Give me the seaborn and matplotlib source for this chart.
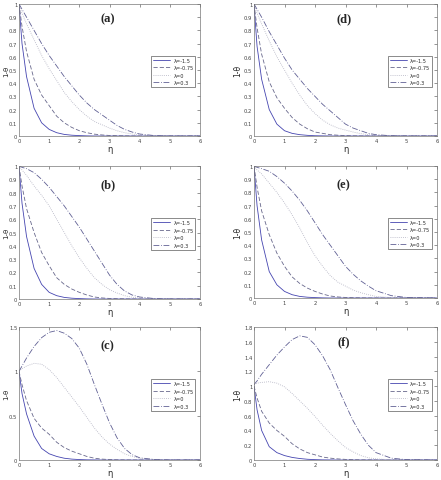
import numpy as np
import pandas as pd
import matplotlib
matplotlib.use("Agg")
import matplotlib.pyplot as plt
import seaborn as sns

eta = [0, 0.1, 0.25, 0.5, 0.75, 1, 1.25, 1.5, 1.75, 2, 2.25, 2.5, 2.75, 3, 3.25, 3.5, 3.75, 4, 4.5, 5, 6]
lambdas = ["λ=-1.5", "λ=-0.75", "λ=0", "λ=0.3"]

a_l1 = [1, 0.7, 0.45, 0.21, 0.1, 0.05, 0.025, 0.012, 0.006, 0.003, 0.001, 0, 0, 0, 0, 0, 0, 0, 0, 0, 0]
a_l2 = [1, 0.83, 0.64, 0.43, 0.31, 0.23, 0.15, 0.1, 0.065, 0.04, 0.025, 0.014, 0.008, 0.004, 0.002, 0.001, 0, 0, 0, 0, 0]
a_l3 = [1, 0.93, 0.85, 0.73, 0.61, 0.51, 0.42, 0.33, 0.26, 0.2, 0.15, 0.11, 0.085, 0.06, 0.04, 0.025, 0.015, 0.008, 0.002, 0, 0]
a_l4 = [1, 0.96, 0.9, 0.8, 0.7, 0.61, 0.53, 0.45, 0.38, 0.31, 0.25, 0.2, 0.16, 0.12, 0.08, 0.05, 0.03, 0.015, 0.003, 0, 0]

d_l1 = [1, 0.68, 0.43, 0.2, 0.09, 0.04, 0.02, 0.01, 0.005, 0.002, 0.001, 0, 0, 0, 0, 0, 0, 0, 0, 0, 0]
d_l2 = [1, 0.82, 0.62, 0.41, 0.29, 0.21, 0.14, 0.09, 0.055, 0.03, 0.02, 0.01, 0.006, 0.003, 0.001, 0, 0, 0, 0, 0, 0]
d_l3 = [1, 0.93, 0.85, 0.72, 0.6, 0.5, 0.4, 0.31, 0.23, 0.17, 0.12, 0.085, 0.06, 0.045, 0.03, 0.018, 0.01, 0.005, 0.001, 0, 0]
d_l4 = [1, 0.96, 0.9, 0.79, 0.69, 0.59, 0.5, 0.43, 0.36, 0.3, 0.24, 0.19, 0.14, 0.09, 0.06, 0.04, 0.02, 0.01, 0.002, 0, 0]

b_l1 = [1, 0.72, 0.47, 0.23, 0.11, 0.05, 0.025, 0.012, 0.006, 0.003, 0.001, 0, 0, 0, 0, 0, 0, 0, 0, 0, 0]
b_l2 = [1, 0.85, 0.68, 0.5, 0.35, 0.25, 0.16, 0.11, 0.075, 0.05, 0.03, 0.015, 0.008, 0.004, 0.002, 0.001, 0, 0, 0, 0, 0]
b_l3 = [1, 0.97, 0.93, 0.85, 0.78, 0.7, 0.6, 0.5, 0.4, 0.31, 0.23, 0.16, 0.11, 0.07, 0.045, 0.025, 0.013, 0.007, 0.001, 0, 0]
b_l4 = [1, 0.99, 0.98, 0.95, 0.9, 0.84, 0.77, 0.7, 0.62, 0.54, 0.45, 0.36, 0.27, 0.18, 0.11, 0.06, 0.03, 0.015, 0.003, 0, 0]

e_l1 = [1, 0.7, 0.44, 0.2, 0.1, 0.05, 0.025, 0.012, 0.006, 0.003, 0.001, 0, 0, 0, 0, 0, 0, 0, 0, 0, 0]
e_l2 = [1, 0.84, 0.66, 0.48, 0.34, 0.24, 0.16, 0.11, 0.075, 0.05, 0.03, 0.015, 0.008, 0.004, 0.002, 0.001, 0, 0, 0, 0, 0]
e_l3 = [1, 0.97, 0.94, 0.87, 0.8, 0.72, 0.63, 0.53, 0.42, 0.32, 0.24, 0.17, 0.12, 0.09, 0.06, 0.04, 0.025, 0.012, 0.003, 0, 0]
e_l4 = [1, 0.99, 0.98, 0.96, 0.92, 0.87, 0.81, 0.74, 0.66, 0.57, 0.48, 0.4, 0.32, 0.24, 0.18, 0.13, 0.09, 0.055, 0.018, 0.004, 0]

c_l1 = [1, 0.75, 0.52, 0.27, 0.13, 0.07, 0.04, 0.02, 0.01, 0.005, 0.002, 0.001, 0, 0, 0, 0, 0, 0, 0, 0, 0]
c_l2 = [1, 0.85, 0.67, 0.47, 0.36, 0.29, 0.2, 0.14, 0.1, 0.07, 0.04, 0.02, 0.01, 0.005, 0.002, 0.001, 0, 0, 0, 0, 0]
c_l3 = [1.0, 1.03, 1.06, 1.09, 1.08, 1.02, 0.93, 0.82, 0.71, 0.6, 0.48, 0.36, 0.26, 0.18, 0.12, 0.07, 0.04, 0.02, 0.005, 0, 0]
c_l4 = [1.0, 1.06, 1.15, 1.28, 1.38, 1.44, 1.46, 1.43, 1.37, 1.26, 1.08, 0.85, 0.63, 0.42, 0.25, 0.13, 0.06, 0.025, 0.005, 0, 0]

f_l1 = [1, 0.68, 0.4, 0.18, 0.1, 0.06, 0.035, 0.02, 0.01, 0.005, 0.002, 0.001, 0, 0, 0, 0, 0, 0, 0, 0, 0]
f_l2 = [1, 0.84, 0.66, 0.5, 0.4, 0.32, 0.22, 0.15, 0.1, 0.07, 0.04, 0.025, 0.015, 0.008, 0.004, 0.002, 0.001, 0, 0, 0, 0]
f_l3 = [1.02, 1.04, 1.05, 1.06, 1.04, 0.99, 0.9, 0.8, 0.7, 0.59, 0.47, 0.36, 0.26, 0.17, 0.11, 0.06, 0.03, 0.015, 0.003, 0, 0]
f_l4 = [1.02, 1.07, 1.16, 1.29, 1.42, 1.53, 1.63, 1.68, 1.66, 1.56, 1.41, 1.22, 0.98, 0.75, 0.53, 0.35, 0.2, 0.1, 0.025, 0.005, 0]

x_ticks = [0, 1, 2, 3, 4, 5, 6]
yticks_unit = [0, 0.1, 0.2, 0.3, 0.4, 0.5, 0.6, 0.7, 0.8, 0.9, 1]
yticks_c = [0, 0.5, 1, 1.5]
yticks_f = [0, 0.2, 0.4, 0.6, 0.8, 1, 1.2, 1.4, 1.6, 1.8]

sns.set_style("white")
plt.rcParams['font.family'] = ['DejaVu Sans']

W, H = 441, 481
fig = plt.figure(figsize=(W / 100, H / 100), dpi=100)
fig.patch.set_facecolor("white")

colors = ["#4545b0", "#68688c", "#b0b0c0", "#606094"]
styles = ["-", (0, (5, 2.5)), (0, (1, 1.5)), (0, (7, 2, 1, 2))]

panels = [
    ("(a)", [a_l1, a_l2, a_l3, a_l4], yticks_unit, 1.0, (19, 5, 200, 137), 0.89),
    ("(d)", [d_l1, d_l2, d_l3, d_l4], yticks_unit, 1.0, (254, 5, 437, 137), 0.89),
    ("(b)", [b_l1, b_l2, b_l3, b_l4], yticks_unit, 1.0, (19, 167, 200, 300), 0.86),
    ("(e)", [e_l1, e_l2, e_l3, e_l4], yticks_unit, 1.0, (254, 167, 437, 299), 0.86),
    ("(c)", [c_l1, c_l2, c_l3, c_l4], yticks_c, 1.5, (19, 328, 200, 461), 0.86),
    ("(f)", [f_l1, f_l2, f_l3, f_l4], yticks_f, 1.8, (254, 328, 437, 461), 0.89),
]

for label, series, yt, ymax, (x0, y0, x1, y1), ly in panels:
    ax = fig.add_axes([x0 / W, 1 - y1 / H, (x1 - x0) / W, (y1 - y0) / H])
    for i, vals in enumerate(series):
        df = pd.DataFrame({"eta": eta, "val": vals})
        sns.lineplot(data=df, x="eta", y="val", ax=ax, color=colors[i],
                     linestyle=styles[i], linewidth=0.6, label=lambdas[i])
    ax.set_xlim(0, 6)
    ax.set_ylim(0, ymax)
    ax.set_xticks(x_ticks)
    ax.set_yticks(yt)
    ax.set_yticklabels([("%g" % v) for v in yt])
    ax.tick_params(direction="in", length=2, width=0.4, labelsize=3.8, pad=1.2,
                   top=True, right=True, colors="#444444")
    for sp in ax.spines.values():
        sp.set_linewidth(0.5)
        sp.set_color("#777777")
    ax.set_xlabel("η", fontsize=6, labelpad=1)
    left_col = x0 < 100
    ax.set_ylabel("1-θ", fontsize=5 if left_col else 5.5)
    ax.yaxis.set_label_coords(-0.054 if left_col else -0.062, 0.5)
    ax.text(0.49, ly, label, transform=ax.transAxes, fontsize=9, fontweight="bold",
            family="Liberation Serif", ha="center", va="center")
    leg = ax.legend(loc="center right", bbox_to_anchor=(0.975, 0.49), fontsize=3.6,
                    frameon=True, fancybox=False, handlelength=3.5, handletextpad=0.6,
                    borderpad=0.4, labelspacing=0.5, borderaxespad=0)
    leg.get_frame().set_edgecolor("#333333")
    leg.get_frame().set_linewidth(0.5)

fig.savefig("out.png", dpi=100, facecolor="white")
